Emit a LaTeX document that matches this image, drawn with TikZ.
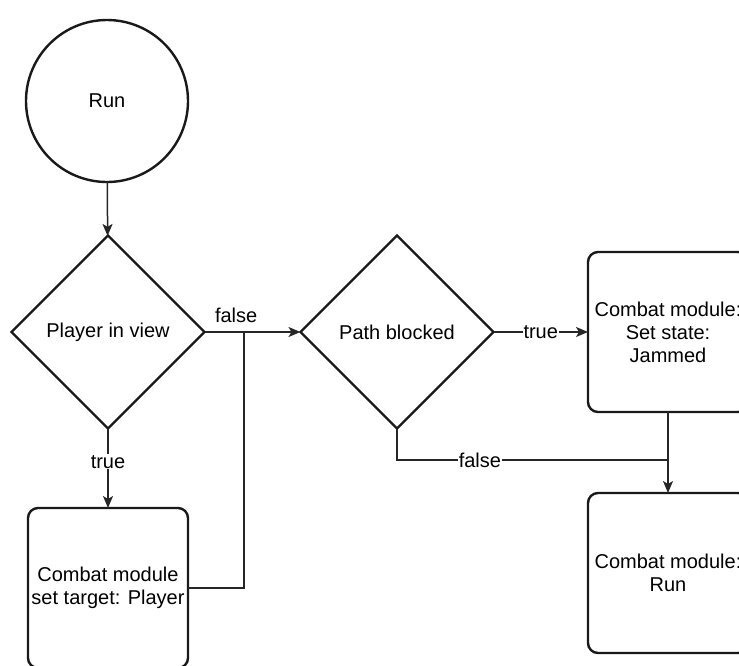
\documentclass[tikz,border=0pt]{standalone}
\usepackage{fontspec}
\setmainfont{Liberation Sans}
\usetikzlibrary{shapes.geometric,arrows.meta}
\begin{document}
\begin{tikzpicture}[x=1pt,y=1pt,
  every node/.style={font=\fontsize{20}{23}\selectfont},
  shapeline/.style={draw=black!90, line width=2.4pt},
  startnode/.style={shapeline, circle, minimum size=162pt, inner sep=0pt, outer sep=0pt},
  decision/.style={shapeline, diamond, aspect=1, minimum width=193pt, minimum height=193pt, inner sep=0pt, outer sep=0pt},
  action/.style={shapeline, rounded corners=10pt, minimum width=160pt, minimum height=160pt, align=center, inner sep=0pt, outer sep=0pt},
  link/.style={draw=black!85, line width=1.5pt},
  flow/.style={link, -{Stealth[length=12pt,width=10pt,inset=3pt]}},
  edgelabel/.style={fill=white, inner sep=1pt}
]
\useasboundingbox (0,0) rectangle (739,-665);
\clip (0,0) rectangle (739,-665);

% nodes
\node[startnode] (run) at (107,-101) {Run};
\node[decision] (inview) at (108,-332) {Player in view};
\node[decision] (blocked) at (397,-332) {Path blocked};
\node[action] (settarget) at (108,-588) {Combat module\\set target: Player};
\node[action] (jammed) at (668,-332) {Combat module:\\Set state:\\Jammed};
\node[action] (combatrun) at (668,-573) {Combat module:\\Run};

% junction points
\coordinate (joinfalse) at (244,-332);
\coordinate (joinrun) at (668,-460);

% connectors
\draw[flow] (run) -- (inview);
\draw[flow] (inview) -- node[edgelabel, pos=0.42] {true} (settarget);
\draw[flow] (inview.east) -- node[pos=0.33, anchor=base, yshift=10pt, inner sep=0pt] {false} (blocked.west);
\draw[link] (settarget.east) -| (joinfalse);
\draw[flow] (blocked.east) -- node[edgelabel] {true} (jammed.west);
\draw[flow] (jammed) -- (combatrun);
\draw[link] (blocked.south) |- node[edgelabel, pos=0.653] {false} (joinrun);
\end{tikzpicture}
\end{document}
